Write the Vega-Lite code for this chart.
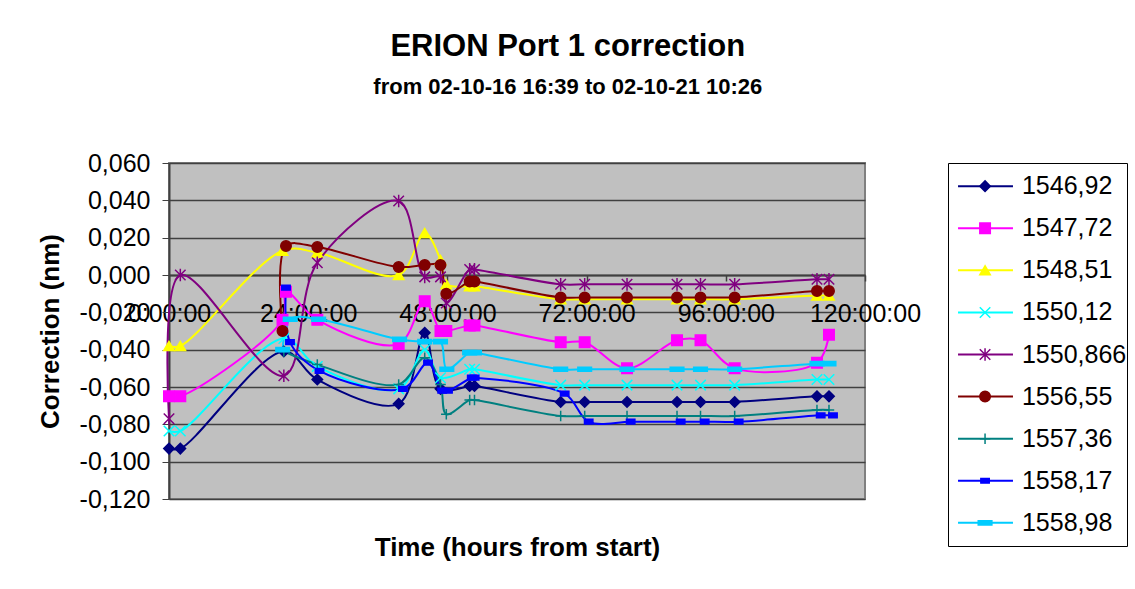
{
  "$schema": "https://vega.github.io/schema/vega-lite/v6.json",
  "background": "white",
  "padding": {"left": 36, "top": 31, "right": 0, "bottom": 0},
  "spacing": 25,
  "title": {
    "text": "ERION Port 1 correction",
    "subtitle": "from 02-10-16 16:39 to 02-10-21 10:26",
    "anchor": "middle",
    "dx": -14,
    "font": "Liberation Sans",
    "fontSize": 31,
    "fontWeight": "bold",
    "color": "black",
    "subtitleFont": "Liberation Sans",
    "subtitleFontSize": 22,
    "subtitleFontWeight": "bold",
    "subtitleColor": "black",
    "subtitlePadding": 14,
    "offset": 51
  },
  "config": {
    "font": "Liberation Sans",
    "axis": {
      "labelFont": "Liberation Sans",
      "labelFontSize": 25,
      "labelColor": "black",
      "titleFont": "Liberation Sans",
      "titleFontSize": 26,
      "titleFontWeight": "bold",
      "titleColor": "black"
    }
  },
  "datasets": {
    "pts": [
      {"s": "1546,92", "h": 0, "v": -0.093},
      {"s": "1546,92", "h": 1.95, "v": -0.093},
      {"s": "1546,92", "h": 19.8, "v": -0.041},
      {"s": "1546,92", "h": 25.57, "v": -0.056},
      {"s": "1546,92", "h": 39.6, "v": -0.069},
      {"s": "1546,92", "h": 44.09, "v": -0.031},
      {"s": "1546,92", "h": 46.81, "v": -0.061},
      {"s": "1546,92", "h": 51.84, "v": -0.0595},
      {"s": "1546,92", "h": 52.67, "v": -0.0595},
      {"s": "1546,92", "h": 67.53, "v": -0.068},
      {"s": "1546,92", "h": 71.67, "v": -0.068},
      {"s": "1546,92", "h": 78.97, "v": -0.068},
      {"s": "1546,92", "h": 87.59, "v": -0.068},
      {"s": "1546,92", "h": 91.64, "v": -0.068},
      {"s": "1546,92", "h": 97.53, "v": -0.068},
      {"s": "1546,92", "h": 111.72, "v": -0.065},
      {"s": "1546,92", "h": 113.79, "v": -0.065},

      {"s": "1547,72", "h": 0, "v": -0.065},
      {"s": "1547,72", "h": 1.95, "v": -0.065},
      {"s": "1547,72", "h": 19.57, "v": -0.024},
      {"s": "1547,72", "h": 20.17, "v": -0.009},
      {"s": "1547,72", "h": 25.57, "v": -0.024},
      {"s": "1547,72", "h": 39.6, "v": -0.037},
      {"s": "1547,72", "h": 44.09, "v": -0.014},
      {"s": "1547,72", "h": 46.81, "v": -0.030},
      {"s": "1547,72", "h": 47.81, "v": -0.030},
      {"s": "1547,72", "h": 51.84, "v": -0.027},
      {"s": "1547,72", "h": 52.67, "v": -0.027},
      {"s": "1547,72", "h": 67.53, "v": -0.036},
      {"s": "1547,72", "h": 71.67, "v": -0.036},
      {"s": "1547,72", "h": 78.97, "v": -0.050},
      {"s": "1547,72", "h": 87.59, "v": -0.035},
      {"s": "1547,72", "h": 91.64, "v": -0.035},
      {"s": "1547,72", "h": 97.53, "v": -0.050},
      {"s": "1547,72", "h": 111.72, "v": -0.047},
      {"s": "1547,72", "h": 113.79, "v": -0.032},

      {"s": "1548,51", "h": 0, "v": -0.038},
      {"s": "1548,51", "h": 1.95, "v": -0.038},
      {"s": "1548,51", "h": 19.57, "v": 0.013},
      {"s": "1548,51", "h": 25.57, "v": 0.012},
      {"s": "1548,51", "h": 39.6, "v": 0.0},
      {"s": "1548,51", "h": 44.09, "v": 0.0225},
      {"s": "1548,51", "h": 46.81, "v": 0.008},
      {"s": "1548,51", "h": 47.81, "v": -0.005},
      {"s": "1548,51", "h": 51.84, "v": -0.006},
      {"s": "1548,51", "h": 52.67, "v": -0.006},
      {"s": "1548,51", "h": 67.53, "v": -0.013},
      {"s": "1548,51", "h": 71.67, "v": -0.013},
      {"s": "1548,51", "h": 78.97, "v": -0.013},
      {"s": "1548,51", "h": 87.59, "v": -0.013},
      {"s": "1548,51", "h": 91.64, "v": -0.013},
      {"s": "1548,51", "h": 97.53, "v": -0.013},
      {"s": "1548,51", "h": 111.72, "v": -0.011},
      {"s": "1548,51", "h": 113.79, "v": -0.011},

      {"s": "1550,12", "h": 0, "v": -0.0836},
      {"s": "1550,12", "h": 1.95, "v": -0.0836},
      {"s": "1550,12", "h": 19.8, "v": -0.034},
      {"s": "1550,12", "h": 25.57, "v": -0.049},
      {"s": "1550,12", "h": 39.6, "v": -0.061},
      {"s": "1550,12", "h": 44.09, "v": -0.040},
      {"s": "1550,12", "h": 46.81, "v": -0.055},
      {"s": "1550,12", "h": 51.84, "v": -0.0505},
      {"s": "1550,12", "h": 52.67, "v": -0.0505},
      {"s": "1550,12", "h": 67.53, "v": -0.059},
      {"s": "1550,12", "h": 71.67, "v": -0.059},
      {"s": "1550,12", "h": 78.97, "v": -0.059},
      {"s": "1550,12", "h": 87.59, "v": -0.059},
      {"s": "1550,12", "h": 91.64, "v": -0.059},
      {"s": "1550,12", "h": 97.53, "v": -0.059},
      {"s": "1550,12", "h": 111.72, "v": -0.056},
      {"s": "1550,12", "h": 113.79, "v": -0.056},

      {"s": "1550,866", "h": 0, "v": -0.077},
      {"s": "1550,866", "h": 1.95, "v": 0.0},
      {"s": "1550,866", "h": 19.8, "v": -0.054},
      {"s": "1550,866", "h": 25.57, "v": 0.0066},
      {"s": "1550,866", "h": 39.6, "v": 0.0396},
      {"s": "1550,866", "h": 44.09, "v": -0.001},
      {"s": "1550,866", "h": 46.81, "v": -0.001},
      {"s": "1550,866", "h": 47.81, "v": -0.015},
      {"s": "1550,866", "h": 51.84, "v": 0.003},
      {"s": "1550,866", "h": 52.67, "v": 0.003},
      {"s": "1550,866", "h": 67.53, "v": -0.005},
      {"s": "1550,866", "h": 71.67, "v": -0.005},
      {"s": "1550,866", "h": 78.97, "v": -0.005},
      {"s": "1550,866", "h": 87.59, "v": -0.005},
      {"s": "1550,866", "h": 91.64, "v": -0.005},
      {"s": "1550,866", "h": 97.53, "v": -0.005},
      {"s": "1550,866", "h": 111.72, "v": -0.0023},
      {"s": "1550,866", "h": 113.79, "v": -0.0023},

      {"s": "1556,55", "h": 19.57, "v": -0.030},
      {"s": "1556,55", "h": 20.17, "v": 0.0155},
      {"s": "1556,55", "h": 25.57, "v": 0.015},
      {"s": "1556,55", "h": 39.6, "v": 0.0043},
      {"s": "1556,55", "h": 44.09, "v": 0.0054},
      {"s": "1556,55", "h": 46.81, "v": 0.0054},
      {"s": "1556,55", "h": 47.81, "v": -0.010},
      {"s": "1556,55", "h": 51.84, "v": -0.0035},
      {"s": "1556,55", "h": 52.67, "v": -0.0035},
      {"s": "1556,55", "h": 67.53, "v": -0.012},
      {"s": "1556,55", "h": 71.67, "v": -0.012},
      {"s": "1556,55", "h": 78.97, "v": -0.012},
      {"s": "1556,55", "h": 87.59, "v": -0.012},
      {"s": "1556,55", "h": 91.64, "v": -0.012},
      {"s": "1556,55", "h": 97.53, "v": -0.012},
      {"s": "1556,55", "h": 111.72, "v": -0.0086},
      {"s": "1556,55", "h": 113.79, "v": -0.0086},

      {"s": "1557,36", "h": 19.8, "v": -0.041},
      {"s": "1557,36", "h": 25.57, "v": -0.048},
      {"s": "1557,36", "h": 39.6, "v": -0.0586},
      {"s": "1557,36", "h": 44.09, "v": -0.0443},
      {"s": "1557,36", "h": 46.81, "v": -0.0586},
      {"s": "1557,36", "h": 47.81, "v": -0.0746},
      {"s": "1557,36", "h": 51.84, "v": -0.067},
      {"s": "1557,36", "h": 52.67, "v": -0.067},
      {"s": "1557,36", "h": 67.53, "v": -0.0755},
      {"s": "1557,36", "h": 71.67, "v": -0.0755},
      {"s": "1557,36", "h": 78.97, "v": -0.0755},
      {"s": "1557,36", "h": 87.59, "v": -0.0755},
      {"s": "1557,36", "h": 91.64, "v": -0.0755},
      {"s": "1557,36", "h": 97.53, "v": -0.0755},
      {"s": "1557,36", "h": 111.72, "v": -0.0723},
      {"s": "1557,36", "h": 113.79, "v": -0.0723},

      {"s": "1558,17", "h": 20.17, "v": -0.0068},
      {"s": "1558,17", "h": 20.86, "v": -0.036},
      {"s": "1558,17", "h": 25.95, "v": -0.0514},
      {"s": "1558,17", "h": 40.34, "v": -0.061},
      {"s": "1558,17", "h": 44.66, "v": -0.047},
      {"s": "1558,17", "h": 47.1, "v": -0.062},
      {"s": "1558,17", "h": 48.1, "v": -0.062},
      {"s": "1558,17", "h": 52.2, "v": -0.055},
      {"s": "1558,17", "h": 52.7, "v": -0.055},
      {"s": "1558,17", "h": 68.22, "v": -0.0636},
      {"s": "1558,17", "h": 72.36, "v": -0.0786},
      {"s": "1558,17", "h": 79.6, "v": -0.0786},
      {"s": "1558,17", "h": 88.22, "v": -0.0786},
      {"s": "1558,17", "h": 92.36, "v": -0.0786},
      {"s": "1558,17", "h": 98.22, "v": -0.0786},
      {"s": "1558,17", "h": 112.36, "v": -0.0752},
      {"s": "1558,17", "h": 114.48, "v": -0.0752},

      {"s": "1558,98", "h": 19.6, "v": -0.040},
      {"s": "1558,98", "h": 20.9, "v": -0.0237},
      {"s": "1558,98", "h": 25.8, "v": -0.0237},
      {"s": "1558,98", "h": 39.75, "v": -0.0345},
      {"s": "1558,98", "h": 44.09, "v": -0.0357},
      {"s": "1558,98", "h": 46.81, "v": -0.0357},
      {"s": "1558,98", "h": 47.9, "v": -0.0505},
      {"s": "1558,98", "h": 51.84, "v": -0.0416},
      {"s": "1558,98", "h": 52.67, "v": -0.0416},
      {"s": "1558,98", "h": 67.53, "v": -0.0505},
      {"s": "1558,98", "h": 71.67, "v": -0.0505},
      {"s": "1558,98", "h": 78.97, "v": -0.0505},
      {"s": "1558,98", "h": 87.59, "v": -0.0505},
      {"s": "1558,98", "h": 91.64, "v": -0.0505},
      {"s": "1558,98", "h": 97.53, "v": -0.0505},
      {"s": "1558,98", "h": 111.72, "v": -0.0475},
      {"s": "1558,98", "h": 113.79, "v": -0.0475}
    ],
    "leg": [
      {"s": "1546,92"}, {"s": "1547,72"}, {"s": "1548,51"}, {"s": "1550,12"}, {"s": "1550,866"},
      {"s": "1556,55"}, {"s": "1557,36"}, {"s": "1558,17"}, {"s": "1558,98"}
    ]
  },
  "hconcat": [
    {
      "width": 696,
      "height": 336,
      "view": {"fill": "#c0c0c0", "stroke": "#808080", "strokeWidth": 2},
      "data": {"name": "pts"},
      "encoding": {
        "x": {
          "field": "h", "type": "quantitative",
          "scale": {"domain": [0, 120], "nice": false, "zero": false},
          "axis": {
            "values": [0, 24, 48, 72, 96, 120],
            "labelExpr": "datum.value + ':00:00'",
            "offset": -224,
            "title": "Time (hours from start)",
            "titleY": 259,
            "grid": false,
            "labelFlush": false,
            "labelOverlap": false,
            "tickSize": 6,
            "labelPadding": 20,
            "domainColor": "#404040",
            "domainWidth": 2,
            "tickColor": "#404040",
            "tickWidth": 1.5
          }
        },
        "y": {
          "field": "v", "type": "quantitative",
          "scale": {"domain": [-0.12, 0.06], "nice": false, "zero": false},
          "axis": {
            "values": [-0.12, -0.1, -0.08, -0.06, -0.04, -0.02, 0, 0.02, 0.04, 0.06],
            "labelExpr": "(datum.value < -0.0001 ? '-' : '') + replace(format(abs(datum.value), '.3f'), '.', ',')",
            "title": "Correction (nm)",
            "grid": true,
            "gridColor": "#404040",
            "gridWidth": 1.5,
            "tickSize": 7,
            "tickColor": "#404040",
            "labelPadding": 12,
            "titlePadding": 16,
            "labelOverlap": false,
            "domainColor": "#404040",
            "domainWidth": 2
          }
        }
      },
      "layer": [
        {
          "mark": {"type": "line", "interpolate": "catmull-rom", "strokeWidth": 2},
          "encoding": {
            "stroke": {
              "field": "s", "type": "nominal",
              "scale": {
                "domain": ["1546,92", "1547,72", "1548,51", "1550,12", "1550,866", "1556,55", "1557,36", "1558,17", "1558,98"],
                "range": ["#000080", "#ff00ff", "#ffff00", "#00ffff", "#800080", "#800000", "#008080", "#0000ff", "#00ccff"]
              },
              "legend": null
            }
          }
        },
        {
          "mark": {"type": "point", "filled": true, "size": 110, "opacity": 1, "strokeWidth": 1.5},
          "encoding": {
            "shape": {
              "field": "s", "type": "nominal",
              "scale": {
                "domain": ["1546,92", "1547,72", "1548,51", "1550,12", "1550,866", "1556,55", "1557,36", "1558,17", "1558,98"],
                "range": ["M0,-1L1,0L0,1L-1,0Z", "square", "triangle-up", "M-1,-1L1,1M-1,1L1,-1", "M-1,-1L1,1M-1,1L1,-1M0,-1.2L0,1.2", "circle", "M-1,0L1,0M0,-1L0,1", "M-0.8,-0.45L0.8,-0.45L0.8,0.45L-0.8,0.45Z", "M-1.3,-0.4L1.3,-0.4L1.3,0.4L-1.3,0.4Z"]
              },
              "legend": null
            },
            "fill": {
              "field": "s", "type": "nominal",
              "scale": {
                "domain": ["1546,92", "1547,72", "1548,51", "1550,12", "1550,866", "1556,55", "1557,36", "1558,17", "1558,98"],
                "range": ["#000080", "#ff00ff", "#ffff00", "#00ffff", "#800080", "#800000", "#008080", "#0000ff", "#00ccff"]
              },
              "legend": null
            },
            "stroke": {
              "field": "s", "type": "nominal",
              "legend": null
            }
          }
        }
      ]
    },
    {
      "width": 179,
      "height": 383,
      "view": {"fill": "white", "stroke": "black", "strokeWidth": 1},
      "data": {"name": "leg"},
      "encoding": {
        "y": {
          "field": "s", "type": "nominal",
          "scale": {"type": "point", "domain": ["1546,92", "1547,72", "1548,51", "1550,12", "1550,866", "1556,55", "1557,36", "1558,17", "1558,98"], "padding": 0.55},
          "axis": null
        }
      },
      "layer": [
        {
          "mark": {"type": "rule", "strokeWidth": 2},
          "encoding": {
            "x": {"datum": 0.056, "type": "quantitative", "scale": {"domain": [0, 1], "nice": false, "zero": false}, "axis": null},
            "x2": {"datum": 0.363},
            "stroke": {"field": "s", "type": "nominal", "legend": null}
          }
        },
        {
          "mark": {"type": "point", "filled": true, "size": 110, "opacity": 1, "strokeWidth": 1.5},
          "encoding": {
            "x": {"datum": 0.207, "type": "quantitative"},
            "shape": {"field": "s", "type": "nominal", "legend": null},
            "fill": {"field": "s", "type": "nominal", "legend": null},
            "stroke": {"field": "s", "type": "nominal", "legend": null}
          }
        },
        {
          "mark": {"type": "text", "align": "left", "baseline": "middle", "fontSize": 25, "font": "Liberation Sans", "color": "black"},
          "encoding": {
            "x": {"datum": 0.413, "type": "quantitative"},
            "text": {"field": "s", "type": "nominal"}
          }
        }
      ]
    }
  ]
}
